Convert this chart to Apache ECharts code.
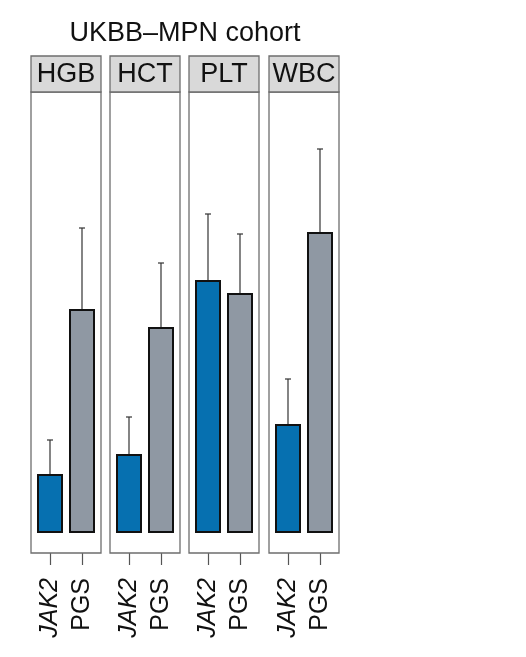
<!DOCTYPE html>
<html>
<head>
<meta charset="utf-8">
<script src="https://cdn.jsdelivr.net/npm/echarts@6/dist/echarts.min.js"></script>
<style>
html,body{margin:0;padding:0;background:#fff;}
#chart{width:526px;height:657px;}
</style>
</head>
<body>
<div id="chart"></div>
<script>
var titleText = 'UKBB\u2013MPN cohort';
var traits = ['HGB', 'HCT', 'PLT', 'WBC'];
var groups = ['JAK2', 'PGS'];
var jak2Values = [0.059, 0.079, 0.253, 0.109];
var pgsValues = [0.224, 0.206, 0.240, 0.301];
var jak2Upper = [0.093, 0.116, 0.319, 0.154];
var pgsUpper = [0.305, 0.270, 0.299, 0.384];

var FONT = 'Liberation Sans, Arial, sans-serif';
var panelLefts = [31, 110, 189, 269];
var panelW = 70, stripTop = 56, stripH = 36, plotTop = 92, plotBottom = 553;
var colors = {JAK2: '#0670b0', PGS: '#8f98a3'};
var borderCol = '#6e6e6e';

var chart = echarts.init(document.getElementById('chart'), null, {renderer: 'canvas'});
var grids = [], xAxes = [], yAxes = [], series = [], graphics = [];

traits.forEach(function (t, i) {
  var left = panelLefts[i];
  grids.push({left: left + 3, width: panelW - 6, top: plotTop, height: plotBottom - plotTop, containLabel: false});
  xAxes.push({
    type: 'category', gridIndex: i, data: groups, position: 'bottom',
    axisLine: {show: false, onZero: false},
    axisTick: {show: true, interval: 0, alignWithLabel: true, length: 12, lineStyle: {color: '#555', width: 1.2}},
    axisLabel: {
      interval: 0, hideOverlap: false,
      rotate: 90, margin: 25, fontSize: 25, fontFamily: FONT, color: '#111',
      formatter: function (v) { return v === 'JAK2' ? '{it|' + v + '}' : v; },
      rich: {it: {fontStyle: 'italic', fontSize: 25, fontFamily: FONT, color: '#111'}}
    }
  });
  yAxes.push({type: 'value', gridIndex: i, min: -0.020, max: 0.441, show: false, splitLine: {show: false}});
  var vals = [jak2Values[i], pgsValues[i]];
  var ups = [jak2Upper[i], pgsUpper[i]];
  series.push({
    type: 'custom', xAxisIndex: i, yAxisIndex: i, z: 1, silent: true,
    data: groups.map(function (g, k) { return [k, vals[k], ups[k]]; }),
    renderItem: function (params, api) {
      var p0 = api.coord([api.value(0), api.value(1)]);
      var p1 = api.coord([api.value(0), api.value(2)]);
      var st = {stroke: '#333', lineWidth: 1.2};
      return {type: 'group', children: [
        {type: 'line', shape: {x1: p0[0], y1: p0[1], x2: p1[0], y2: p1[1]}, style: st},
        {type: 'line', shape: {x1: p1[0] - 3, y1: p1[1], x2: p1[0] + 3, y2: p1[1]}, style: st}
      ]};
    }
  });
  series.push({
    type: 'bar', xAxisIndex: i, yAxisIndex: i, z: 2, barWidth: 26,
    data: groups.map(function (g, k) {
      return {value: vals[k], itemStyle: {color: colors[g], borderColor: '#111', borderWidth: 2}};
    })
  });
  graphics.push({
    type: 'rect', shape: {x: left, y: plotTop, width: panelW, height: plotBottom - plotTop},
    style: {fill: 'none', stroke: borderCol, lineWidth: 1.3}, z: 10
  });
  graphics.push({
    type: 'rect', shape: {x: left, y: stripTop, width: panelW, height: stripH},
    style: {fill: '#d9d9d9', stroke: borderCol, lineWidth: 1.3}, z: 10
  });
  graphics.push({
    type: 'text', x: left + panelW / 2, y: stripTop + stripH / 2 + 1, z: 11,
    style: {text: t, fill: '#111', font: '27px ' + FONT, textAlign: 'center', textVerticalAlign: 'middle'}
  });
});

graphics.push({
  type: 'text', x: 185, y: 34, z: 11,
  style: {text: titleText, fill: '#111', font: '27px ' + FONT, textAlign: 'center', textVerticalAlign: 'middle'}
});

chart.setOption({
  animation: false,
  backgroundColor: '#fff',
  grid: grids, xAxis: xAxes, yAxis: yAxes, series: series, graphic: graphics
});
</script>
</body>
</html>
